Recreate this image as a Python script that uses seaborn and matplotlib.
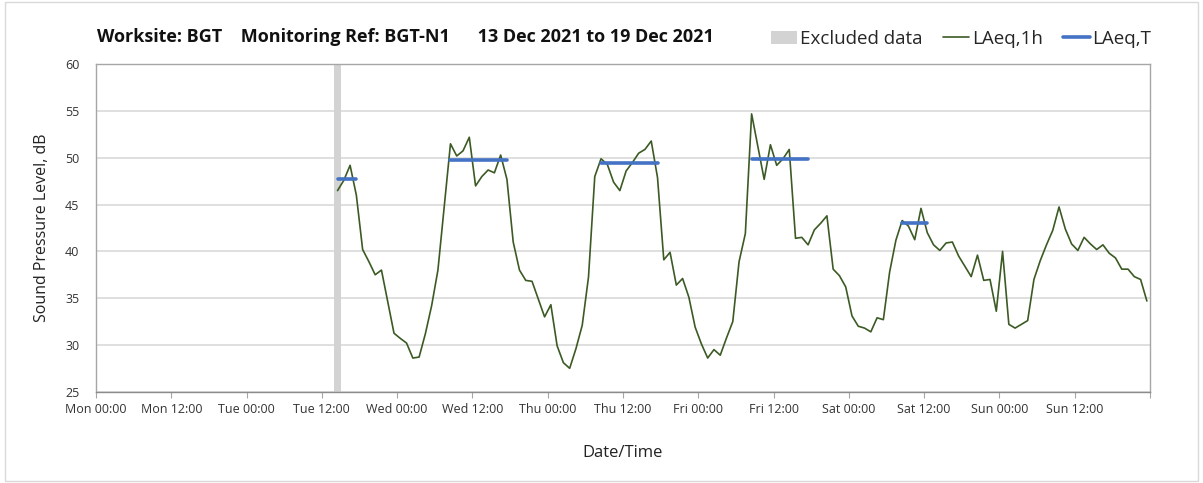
import numpy as np
import pandas as pd
import matplotlib
matplotlib.use("Agg")
import matplotlib.pyplot as plt
from matplotlib.lines import Line2D
from matplotlib.patches import Patch, Rectangle
import seaborn as sns

# -----------------------------------------------------------
# Data (hours counted from Mon 13 Dec 2021 00:00)
# -----------------------------------------------------------
hour_start = 38.5  # first hourly value, Tue 14:00-15:00, plotted mid-hour
laeq_1h = [
    46.5, 47.6, 49.2, 46.0, 40.2, 38.9, 37.5, 38.0, 34.6, 31.25,
    30.7, 30.2, 28.6, 28.7, 31.2, 34.2, 38.0, 44.75, 51.5, 50.2,
    50.75, 52.2, 47.0, 48.0, 48.7, 48.4, 50.3, 47.7, 41.0, 38.0,
    36.9, 36.8, 34.9, 33.0, 34.3, 29.9, 28.1, 27.5, 29.6, 32.1,
    37.25, 48.0, 49.9, 49.3, 47.4, 46.5, 48.6, 49.5, 50.5, 50.9,
    51.8, 47.9, 39.1, 39.9, 36.4, 37.1, 35.1, 31.9, 30.1, 28.6,
    29.5, 28.9, 30.75, 32.5, 38.9, 41.9, 54.7, 51.2, 47.7, 51.4,
    49.2, 49.9, 50.9, 41.4, 41.5, 40.7, 42.3, 43.0, 43.8, 38.1,
    37.4, 36.2, 33.1, 32.0, 31.8, 31.4, 32.9, 32.7, 37.8, 41.2,
    43.3, 42.7, 41.25, 44.6, 42.0, 40.7, 40.1, 40.9, 41.0, 39.5,
    38.4, 37.3, 39.6, 36.9, 37.0, 33.6, 40.0, 32.2, 31.8, 32.2,
    32.6, 37.0, 39.0, 40.7, 42.25, 44.75, 42.4, 40.8, 40.1, 41.5,
    40.8, 40.2, 40.7, 39.8, 39.3, 38.1, 38.1, 37.3, 37.0, 34.7,
]

# LAeq,T periods: first and last hourly point covered, level
period_start = [38.5, 56.5, 80.5, 104.5, 128.5]
period_end = [41.5, 65.5, 89.5, 113.5, 132.5]
period_level = [47.7, 49.8, 49.5, 49.85, 43.0]

excluded_start = [38.0]
excluded_end = [39.0]

tick_labels = ["Mon 00:00", "Mon 12:00", "Tue 00:00", "Tue 12:00",
               "Wed 00:00", "Wed 12:00", "Thu 00:00", "Thu 12:00",
               "Fri 00:00", "Fri 12:00", "Sat 00:00", "Sat 12:00",
               "Sun 00:00", "Sun 12:00", ""]

GREEN = "#3b5a24"
BLUE = "#4472c4"
GREY_BAR = "#d3d3d3"
GRID = "#d9d9d9"
AXIS = "#a6a6a6"

df_1h = pd.DataFrame({
    "hour": hour_start + np.arange(len(laeq_1h)),
    "level": laeq_1h,
})
rows = []
for i, (s, e, v) in enumerate(zip(period_start, period_end, period_level)):
    rows.append({"period": i, "hour": s, "level": v})
    rows.append({"period": i, "hour": e, "level": v})
df_t = pd.DataFrame(rows)

# -----------------------------------------------------------
# Plot
# -----------------------------------------------------------
sns.set_theme(style="white")
plt.rcParams["font.family"] = ["Open Sans", "DejaVu Sans"]

fig = plt.figure(figsize=(12.03, 4.83), dpi=100)
ax = fig.add_axes([96 / 1203, 1 - 391.7 / 483, (1150 - 96) / 1203, (391.7 - 64.3) / 483])

for s, e in zip(excluded_start, excluded_end):
    ax.axvspan(s, e, color=GREY_BAR, lw=0, zorder=1)

sns.lineplot(data=df_1h, x="hour", y="level", color=GREEN, lw=1.2,
             ax=ax, legend=False, zorder=3)
sns.lineplot(data=df_t, x="hour", y="level", units="period", estimator=None,
             color=BLUE, lw=2.6, ax=ax, legend=False, zorder=4,
             solid_capstyle="round")

ax.set_xlim(0, 168)
ax.set_ylim(25, 60)
ax.set_xticks(np.arange(0, 169, 12))
ax.set_xticklabels(tick_labels, fontsize=9, color="#333333")
ax.set_xticks(np.arange(0, 169, 24), minor=True)
ax.set_yticks(np.arange(25, 61, 5))
ax.set_yticklabels([str(v) for v in range(25, 61, 5)], fontsize=9, color="#333333")

ax.grid(False)
ax.grid(which="minor", axis="x", color=GRID, lw=1.2, zorder=0)
ax.grid(which="major", axis="y", color=GRID, lw=1.2, zorder=0)
ax.tick_params(axis="x", which="major", direction="out", length=4, width=0.8,
               color=AXIS, pad=4, bottom=True)
ax.tick_params(axis="x", which="minor", length=0)
ax.tick_params(axis="y", length=0, pad=12)
for side in ["top", "right", "left"]:
    ax.spines[side].set_color(AXIS)
    ax.spines[side].set_linewidth(1.0)
ax.spines["bottom"].set_color("#8c8c8c")
ax.spines["bottom"].set_linewidth(1.0)

ax.set_xlabel("Date/Time", fontsize=12, labelpad=21, color="#222222")
ax.set_ylabel("Sound Pressure Level, dB", fontsize=11.5, labelpad=11, color="#222222")

fig.text(97 / 1203, 1 - 37 / 483,
         "Worksite: BGT    Monitoring Ref: BGT-N1      13 Dec 2021 to 19 Dec 2021",
         fontsize=13, fontweight="bold", ha="left", va="center", color="#111111")

handles = [
    Patch(facecolor=GREY_BAR, edgecolor="none"),
    Line2D([0], [0], color=GREEN, lw=1.2),
    Line2D([0], [0], color=BLUE, lw=2.6),
]
fig.legend(handles, ["Excluded data", "LAeq,1h", "LAeq,T"],
           loc="center left", bbox_to_anchor=(763 / 1203, 1 - 39 / 483),
           ncol=3, frameon=False, fontsize=13.5, handlelength=1.4,
           handletextpad=0.15, columnspacing=1.1, borderaxespad=0)

fig.patches.append(Rectangle((0.004, 0.004), 0.992, 0.992, transform=fig.transFigure,
                             fill=False, edgecolor=GRID, lw=1))

fig.savefig("out.png", dpi=100)
